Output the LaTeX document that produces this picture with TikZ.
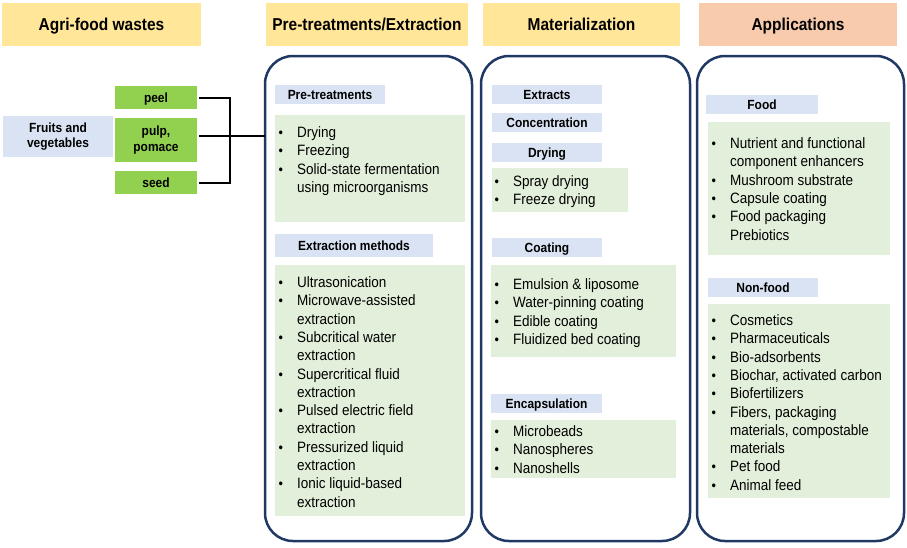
\documentclass[tikz,border=0pt]{standalone}
\usepackage{fontspec}
\setmainfont{Liberation Sans}[FakeStretch=0.9]
\usepackage{array}
\definecolor{hdryellow}{HTML}{FFE699}
\definecolor{hdrsalmon}{HTML}{F8CBAD}
\definecolor{labblue}{HTML}{DAE3F3}
\definecolor{lgreen}{HTML}{E2EFDA}
\definecolor{bgreen}{HTML}{92D050}
\definecolor{navy}{HTML}{1F3864}
\newcommand{\bl}{\makebox[18.5pt][l]{\fontsize{14}{14}\selectfont\textbullet}}
\newenvironment{blist}{\begin{tabular}[t]{@{}l@{}l@{}}}{\end{tabular}}
\begin{document}
\begin{tikzpicture}[x=1pt,y=-1pt,
  box/.style={rectangle,inner sep=0pt,outer sep=0pt},
  hdr/.style={box,fill=hdryellow,font=\fontsize{17.2}{20}\selectfont\bfseries,text height=12.3pt,text depth=0pt},
  lab/.style={box,fill=labblue,font=\fontsize{13.3}{15.5}\selectfont\bfseries,align=center},
  one/.style={text height=9.5pt,text depth=0pt},
  gbox/.style={box,fill=lgreen},
  sgreen/.style={box,fill=bgreen,font=\fontsize{13.3}{16}\selectfont\bfseries,align=center},
  bigbox/.style={box,draw=navy,line width=2.5pt,rounded corners=28pt},
  items/.style={inner sep=0pt,anchor=base west,font=\fontsize{15}{18.3}\selectfont},
  conn/.style={draw=black,line width=2pt}]
\useasboundingbox (0,0) rectangle (907,547);
% headers
\node[hdr,minimum width=199,minimum height=43] (h1) at (101.5,24.5) {Agri-food wastes};
\node[hdr,minimum width=202,minimum height=43] (h2) at (367,24.5) {Pre-treatments/Extraction};
\node[hdr,minimum width=197,minimum height=43] (h3) at (581.5,24.5) {Materialization};
\node[hdr,fill=hdrsalmon,minimum width=198,minimum height=43] (h4) at (798,24.5) {Applications};
% big boxes
\node[bigbox,minimum width=207,minimum height=485] (b1) at (368.5,298.5) {};
\node[bigbox,minimum width=209,minimum height=485] (b2) at (585.5,298.5) {};
\node[bigbox,minimum width=207,minimum height=485] (b3) at (800.5,298.5) {};
% left
\node[lab,minimum width=110,minimum height=41] (fv) at (58,136.5) {Fruits and\\vegetables};
\node[sgreen,one,minimum width=82,minimum height=23] (peel) at (156,97.5) {peel};
\node[sgreen,minimum width=82,minimum height=44] (pulp) at (156,140) {pulp,\\pomace};
\node[sgreen,one,minimum width=82,minimum height=23] (seed) at (156,182.5) {seed};
\coordinate (brx) at (230,0);
\draw[conn] ([xshift=2pt]peel.east) -| (brx |- seed.east) -- ([xshift=2pt]seed.east);
\coordinate (pj) at ([shift={(2,-4)}]pulp.east);
\draw[conn] (pj) -- (pj -| b1.west);
% box 1
\node[lab,one,minimum width=110,minimum height=19] (l1) at (330,94.5) {Pre-treatments};
\node[gbox,minimum width=190,minimum height=107] (g1) at (370,168.5) {};
\node[items] (t1) at (278.5,137.5) {\begin{blist}
\bl & Drying\\
\bl & Freezing\\
\bl & Solid-state fermentation\\
 & using microorganisms
\end{blist}};
\node[lab,one,minimum width=158,minimum height=23] (l2) at (354,245.5) {Extraction methods};
\node[gbox,minimum width=190,minimum height=251] (g2) at (370,390.5) {};
\node[items] (t2) at (278.5,287.5) {\begin{blist}
\bl & Ultrasonication\\
\bl & Microwave-assisted\\
 & extraction\\
\bl & Subcritical water\\
 & extraction\\
\bl & Supercritical fluid\\
 & extraction\\
\bl & Pulsed electric field\\
 & extraction\\
\bl & Pressurized liquid\\
 & extraction\\
\bl & Ionic liquid-based\\
 & extraction
\end{blist}};
% box 2
\node[lab,one,minimum width=110,minimum height=19] (l3) at (547,94.5) {Extracts};
\node[lab,one,minimum width=110,minimum height=19] (l4) at (547,122.5) {Concentration};
\node[lab,one,minimum width=110,minimum height=19] (l5) at (547,152.5) {Drying};
\node[gbox,minimum width=136,minimum height=44] (g3) at (560,190) {};
\node[items] (t3) at (494.5,186.5) {\begin{blist}
\bl & Spray drying\\
\bl & Freeze drying
\end{blist}};
\node[lab,one,minimum width=110,minimum height=19] (l6) at (547,247.5) {Coating};
\node[gbox,minimum width=185,minimum height=92] (g4) at (583.5,311) {};
\node[items] (t4) at (494.5,289.5) {\begin{blist}
\bl & Emulsion \& liposome\\
\bl & Water-pinning coating\\
\bl & Edible coating\\
\bl & Fluidized bed coating
\end{blist}};
\node[lab,one,minimum width=111,minimum height=19] (l7) at (546.5,403.5) {Encapsulation};
\node[gbox,minimum width=185,minimum height=58] (g5) at (583.5,449) {};
\node[items] (t5) at (494.5,436.5) {\begin{blist}
\bl & Microbeads\\
\bl & Nanospheres\\
\bl & Nanoshells
\end{blist}};
% box 3
\node[lab,one,minimum width=112,minimum height=19] (l8) at (762,104.5) {Food};
\node[gbox,minimum width=182,minimum height=133] (g6) at (799,188.5) {};
\node[items] (t6) at (711.5,148.5) {\begin{blist}
\bl & Nutrient and functional\\
 & component enhancers\\
\bl & Mushroom substrate\\
\bl & Capsule coating\\
\bl & Food packaging\\
 & Prebiotics
\end{blist}};
\node[lab,one,minimum width=110,minimum height=19] (l9) at (763,287.5) {Non-food};
\node[gbox,minimum width=182,minimum height=194] (g7) at (799,401) {};
\node[items] (t7) at (711.5,325.5) {\begin{blist}
\bl & Cosmetics\\
\bl & Pharmaceuticals\\
\bl & Bio-adsorbents\\
\bl & Biochar, activated carbon\\
\bl & Biofertilizers\\
\bl & Fibers, packaging\\
 & materials, compostable\\
 & materials\\
\bl & Pet food\\
\bl & Animal feed
\end{blist}};
\end{tikzpicture}
\end{document}
